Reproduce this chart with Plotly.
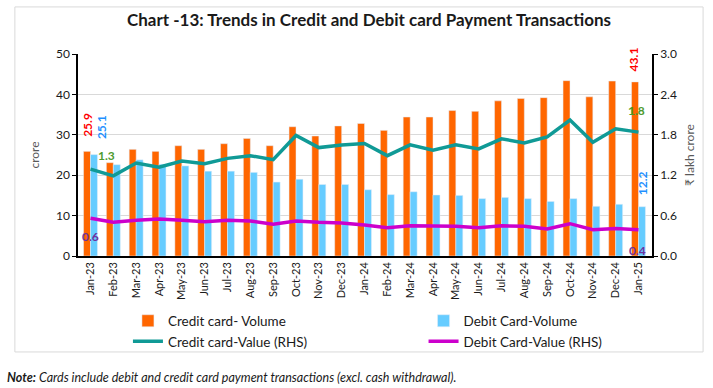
import plotly.graph_objects as go

months = ["Jan-23","Feb-23","Mar-23","Apr-23","May-23","Jun-23","Jul-23","Aug-23","Sep-23","Oct-23",
          "Nov-23","Dec-23","Jan-24","Feb-24","Mar-24","Apr-24","May-24","Jun-24","Jul-24","Aug-24",
          "Sep-24","Oct-24","Nov-24","Dec-24","Jan-25"]
credit_volume = [25.9,23.1,26.4,25.9,27.3,26.4,27.8,29.1,27.3,32.0,29.7,32.2,32.8,31.1,34.4,34.4,36.0,35.8,
                 38.4,39.0,39.2,43.4,39.4,43.3,43.1]
debit_volume = [25.1,22.6,23.8,22.7,22.3,21.0,21.0,20.7,18.3,19.0,17.7,17.7,16.4,15.2,15.9,15.1,15.0,14.2,
                14.5,14.2,13.5,14.2,12.3,12.8,12.2]
credit_value = [1.29,1.19,1.38,1.32,1.41,1.37,1.45,1.49,1.43,1.79,1.61,1.65,1.67,1.49,1.65,1.57,1.65,1.59,
                1.74,1.68,1.77,2.02,1.69,1.89,1.84]
debit_value = [0.56,0.50,0.53,0.55,0.53,0.51,0.53,0.52,0.47,0.52,0.50,0.49,0.46,0.42,0.45,0.45,0.44,0.42,
               0.45,0.44,0.40,0.48,0.39,0.41,0.39]

FONT = "Lato"
C_CV = "#FF6600"
C_DV = "#66CCFF"
C_CL = "#109A96"
C_DL = "#CC00CC"

fig = go.Figure()
fig.add_trace(go.Bar(x=months, y=credit_volume, name="Credit card- Volume", marker_color=C_CV, legend="legend"))
fig.add_trace(go.Bar(x=months, y=debit_volume, name="Debit Card-Volume", marker_color=C_DV, legend="legend2"))
fig.add_trace(go.Scatter(x=months, y=credit_value, name="Credit card-Value (RHS)", mode="lines",
                         line=dict(color=C_CL, width=3.5), yaxis="y2", legend="legend"))
fig.add_trace(go.Scatter(x=months, y=debit_value, name="Debit Card-Value (RHS)", mode="lines",
                         line=dict(color=C_DL, width=3.5), yaxis="y2", legend="legend2"))

ann = []
def lab(x, y, text, color, yref="y", xshift=0, yshift=0, angle=0, xanchor="center", yanchor="bottom", size=12):
    ann.append(dict(x=x, y=y, xref="x", yref=yref, text=text, showarrow=False, textangle=angle,
                    xshift=xshift, yshift=yshift, xanchor=xanchor, yanchor=yanchor,
                    font=dict(family=FONT, size=size, color=color, weight="bold")))

lab(months[0], credit_volume[0], f"{credit_volume[0]:.1f}", "#FF0000", xshift=-3, yshift=12, angle=-90)
lab(months[0], debit_volume[0], f"{debit_volume[0]:.1f}", "#1E90FF", xshift=11, yshift=13, angle=-90)
lab(months[0], credit_value[0], f"{credit_value[0]:.1f}", "#4E9A2E", yref="y2", xshift=16, yshift=4)
lab(months[0], debit_value[0], f"{debit_value[0]:.1f}", "#7030A0", yref="y2", xshift=0, yshift=-28)
lab(months[-1], credit_volume[-1], f"{credit_volume[-1]:.1f}", "#FF0000", xshift=-5, yshift=8, angle=-90)
lab(months[-1], debit_volume[-1], f"{debit_volume[-1]:.1f}", "#1E90FF", xshift=4, yshift=9, angle=-90)
lab(months[-1], credit_value[-1], f"{credit_value[-1]:.1f}", "#4E9A2E", yref="y2", xshift=-2, yshift=12)
lab(months[-1], debit_value[-1], f"{debit_value[-1]:.1f}", "#7030A0", yref="y2", xshift=-1, yshift=-30)

ann.append(dict(xref="paper", yref="paper", x=0.507, y=1.17, xanchor="center", yanchor="middle",
                text="<b>Chart -13: Trends in Credit and Debit card Payment Transactions</b>", showarrow=False,
                font=dict(family=FONT, size=17, color="#1a1a1a")))
ann.append(dict(xref="paper", yref="paper", x=-0.128, y=-0.6, xanchor="left", yanchor="middle",
                text="<b><i>Note:</i></b><i> Cards include debit and credit card payment transactions (excl. cash withdrawal).</i>",
                showarrow=False, font=dict(family=FONT, size=12.5, color="#1a1a1a")))

leg_common = dict(orientation="v", yanchor="top", xanchor="left", font=dict(family=FONT, size=13.5),
                  bgcolor="rgba(0,0,0,0)")

fig.update_layout(
    width=713, height=388,
    margin=dict(l=78, r=61, t=54, b=132, autoexpand=False),
    paper_bgcolor="white", plot_bgcolor="white",
    barmode="group", bargap=0.39, bargroupgap=0,
    font=dict(family=FONT, size=11, color="#1a1a1a"),
    showlegend=True,
    legend=dict(x=0.087, y=-0.245, **leg_common),
    legend2=dict(x=0.602, y=-0.245, **leg_common),
    xaxis=dict(type="category", tickangle=-90, showline=True, linecolor="black", linewidth=1.5,
               ticks="", tickfont=dict(size=11), showgrid=False),
    yaxis=dict(range=[0, 50], dtick=10, showline=True, linecolor="black", linewidth=1.5,
               ticks="outside", ticklen=4, tickcolor="black", gridcolor="#D9D9D9", zeroline=False,
               title=dict(text="crore", font=dict(size=12, color="#595959"), standoff=14),
               tickfont=dict(size=12)),
    yaxis2=dict(range=[0, 3.0], dtick=0.6, tickformat=".1f", overlaying="y", side="right",
                showline=True, linecolor="black", linewidth=1.5, ticks="outside", ticklen=4,
                tickcolor="black", showgrid=False, zeroline=False,
                title=dict(text="₹ lakh crore", font=dict(size=12, color="#595959"), standoff=10),
                tickfont=dict(size=12)),
    annotations=ann,
    shapes=[dict(type="rect", xref="paper", yref="paper", x0=-0.11, x1=1.089, y0=-0.475, y1=1.233,
                 line=dict(color="#D9D9D9", width=1), fillcolor="rgba(0,0,0,0)", layer="below")],
)

fig.write_html("out.html", config={"displayModeBar": False},
               post_script="document.body.style.margin='0';")
